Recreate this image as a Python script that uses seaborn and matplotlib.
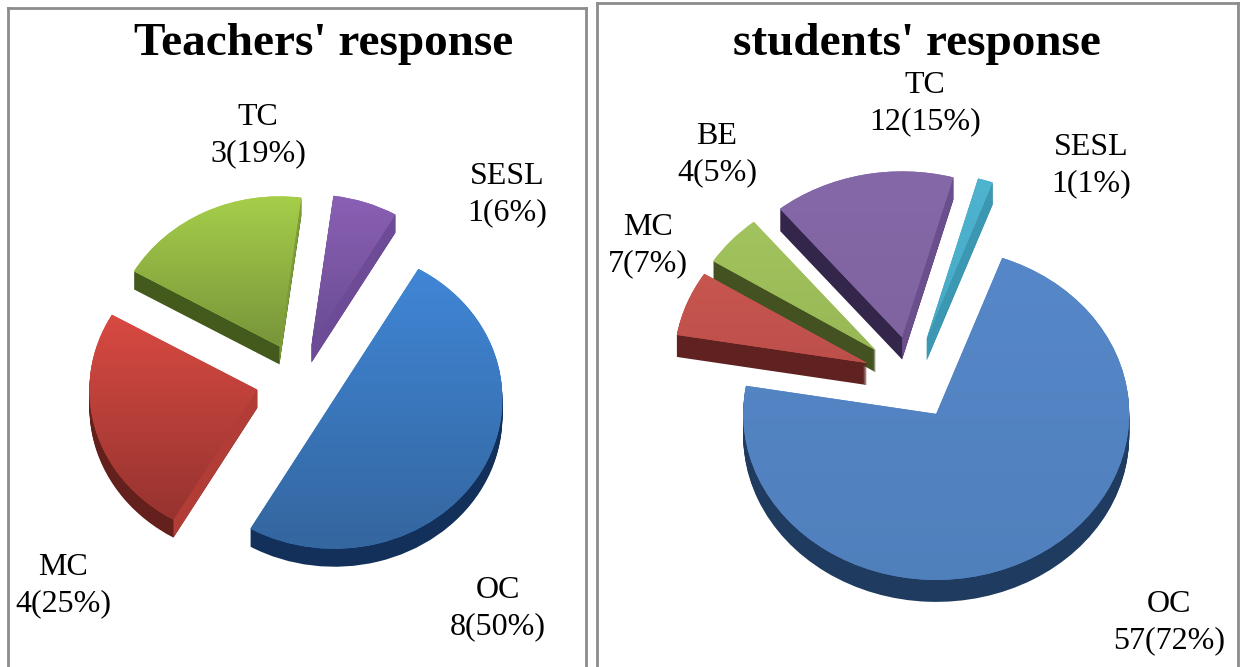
"""Two exploded pseudo-3D pies: teachers' and students' responses."""

import matplotlib
matplotlib.use("Agg")
import matplotlib.pyplot as plt
from matplotlib.colors import LinearSegmentedColormap
import numpy as np
import seaborn as sns

W, H = 1241, 667

# Data
teacher_names = ["OC", "MC", "TC", "SESL"]
teacher_counts = [8, 4, 3, 1]
teacher_labels = ["8(50%)", "4(25%)", "3(19%)", "1(6%)"]

student_names = ["OC", "MC", "BE", "TC", "SESL"]
student_counts = [57, 5, 4, 12, 1]   # slice sizes as drawn, the MC label says 7
student_labels = ["57(72%)", "7(7%)", "4(5%)", "12(15%)", "1(1%)"]

# (top colour, bottom colour, outer wall, lit cut wall)
TEACHER_STYLE = [
    ("#4086d6", "#34669f", "#12305a", "#1d4475"),
    ("#d84a42", "#96332f", "#63201d", "#b23c36"),
    ("#a6ce4a", "#78953a", "#435a1c", "#7d9c3a"),
    ("#8a60b4", "#6a4c92", "#4b3170", "#6d4b96"),
]
STUDENT_STYLE = [
    ("#5687c8", "#5080bc", "#1f3c60", "#2c5078"),
    ("#c8564f", "#bd4f4b", "#5f2220", "#8c3633"),
    ("#a2c35e", "#98b855", "#435220", "#6f8a38"),
    ("#8568a8", "#7f64a0", "#33264a", "#6a4f8c"),
    ("#4fb4d0", "#47a8c4", "#2f7f98", "#3c98b2"),
]

FONT = ["Liberation Serif", "DejaVu Serif"]
LABEL_SIZE = 23
TITLE_SIZE = 34


def px_to_fig(x, y):
    return x / W, 1 - y / H


def draw_pie(fig, rect, centre, radii, depth, counts, start, style):
    """Pie squashed by the axes scale, extruded downwards by depth pixels."""
    x0, y0, x1, y1 = rect
    cx, cy = centre
    rx, ry = radii
    ax = fig.add_axes([x0 / W, 1 - y1 / H, (x1 - x0) / W, (y1 - y0) / H])
    colors_top = [s[0] for s in style]
    colors_wall = [s[2] for s in style]
    explode = [0.25] * len(counts)
    step = 1 / ry

    # Side walls: stacked copies of the same pie
    for k in range(depth, 0, -1):
        ax.pie(counts, explode=explode, startangle=start, counterclock=False,
               colors=colors_wall, center=(0, -k * step),
               wedgeprops=dict(linewidth=0.6, edgecolor="none"))

    # Top face, with vertical gradient clipped to each wedge
    wedges, _ = ax.pie(counts, explode=explode, startangle=start, counterclock=False,
                       colors=colors_top, wedgeprops=dict(linewidth=0))
    for wedge, st in zip(wedges, style):
        # lit cut wall on edges that face down and to the right
        cen = np.array(wedge.center)
        for ang, sign in ((wedge.theta1, -1), (wedge.theta2, 1)):
            a = np.deg2rad(ang)
            normal = np.array([-np.sin(a), np.cos(a)]) * sign
            if normal[1] < 0 and normal[0] > 0:
                tip = cen + np.array([np.cos(a), np.sin(a)])
                d = depth * step
                ax.fill([cen[0], tip[0], tip[0], cen[0]],
                        [cen[1], tip[1], tip[1] - d, cen[1] - d],
                        color=st[3], linewidth=0, zorder=1.5)
        wedge.set_zorder(2)
        box = wedge.get_path().get_extents(wedge.get_patch_transform())
        cmap = LinearSegmentedColormap.from_list("face", [st[0], st[1]])
        im = ax.imshow(np.linspace(0, 1, 256)[:, None], cmap=cmap, aspect="auto",
                       extent=[box.x0, box.x1, box.y0, box.y1], origin="upper", zorder=3)
        im.set_clip_path(wedge)

    ax.set_aspect("auto")
    ax.set_xlim((x0 - cx) / rx, (x1 - cx) / rx)
    ax.set_ylim((cy - y1) / ry, (cy - y0) / ry)
    ax.set_frame_on(True)
    for spine in ax.spines.values():
        spine.set_visible(True)
        spine.set_color("#8c8c8c")
        spine.set_linewidth(2.0)
    return ax


def put_label(fig, x, y, name, label):
    fx, fy = px_to_fig(x, y)
    fig.text(fx, fy, f"{name}\n{label}", ha="center", va="center",
             fontsize=LABEL_SIZE, family=FONT, color="black", linespacing=1.32)


sns.set_theme(style="white")
plt.rcParams["font.family"] = FONT

fig = plt.figure(figsize=(W / 100, H / 100), dpi=100, facecolor="white")

draw_pie(fig, (8, 8, 586, 690), (298, 380), (168, 150), 18,
         teacher_counts, 60, TEACHER_STYLE)
draw_pie(fig, (597, 3, 1238, 690), (912, 378), (193, 166), 22,
         student_counts, 70, STUDENT_STYLE)

fx, fy = px_to_fig(324, 44)
fig.text(fx, fy, "Teachers' response", ha="center", va="center", color="black",
         fontsize=TITLE_SIZE, fontweight="bold", family=FONT)
fx, fy = px_to_fig(917, 44)
fig.text(fx, fy, "students' response", ha="center", va="center", color="black",
         fontsize=TITLE_SIZE, fontweight="bold", family=FONT)

teacher_pos = [(498, 609), (63, 586), (258, 136), (507, 195)]
for (x, y), n, l in zip(teacher_pos, teacher_names, teacher_labels):
    put_label(fig, x, y, n, l)

student_pos = [(1169, 623), (648, 246), (717, 155), (925, 104), (1091, 166)]
for (x, y), n, l in zip(student_pos, student_names, student_labels):
    put_label(fig, x, y, n, l)

fig.savefig("out.png", dpi=100)
plt.close(fig)
